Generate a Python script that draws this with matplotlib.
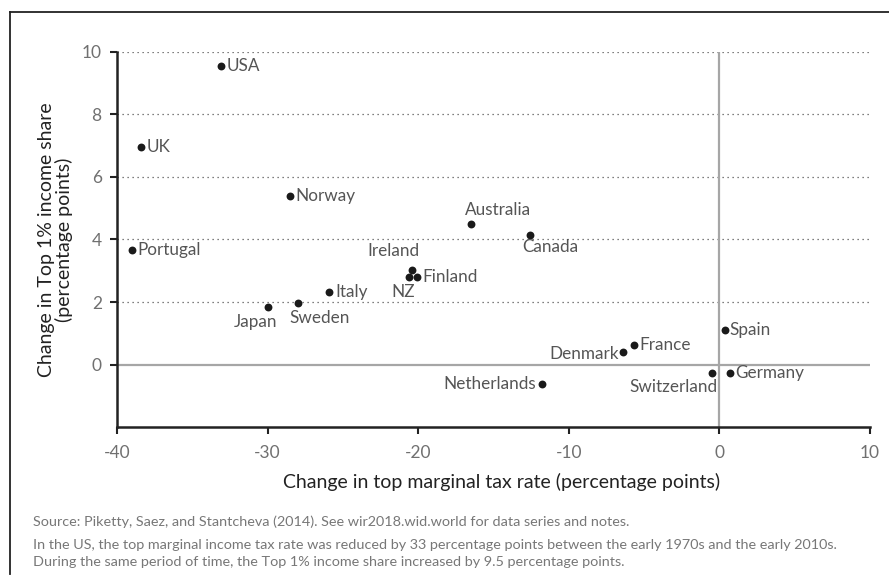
import matplotlib
matplotlib.use("Agg")
import matplotlib.pyplot as plt
from matplotlib.lines import Line2D

plt.rcParams['font.family'] = ['Lato', 'DejaVu Sans']
plt.rcParams['axes.unicode_minus'] = False

countries = ["USA", "UK", "Norway", "Portugal", "Ireland", "NZ", "Finland", "Italy",
             "Japan", "Sweden", "Australia", "Canada", "Spain", "France", "Denmark",
             "Netherlands", "Switzerland", "Germany"]
tax_change = [-33.1, -38.4, -28.5, -39.0, -20.4, -20.6, -20.1, -25.9,
              -30.0, -28.0, -16.5, -12.6, 0.4, -5.7, -6.4,
              -11.8, -0.5, 0.7]
share_change = [9.55, 6.97, 5.39, 3.67, 3.01, 2.80, 2.80, 2.31,
                1.84, 1.97, 4.48, 4.14, 1.12, 0.64, 0.39,
                -0.62, -0.27, -0.25]
# label offsets in points and alignment (style only)
label_style = {
    "USA": ((4, 0), "left", "center"),
    "UK": ((4, 0), "left", "center"),
    "Norway": ((4, 0), "left", "center"),
    "Portugal": ((4, 0), "left", "center"),
    "Ireland": ((5, 8), "right", "bottom"),
    "NZ": ((4, -5), "right", "top"),
    "Finland": ((4, 0), "left", "center"),
    "Italy": ((4, 0), "left", "center"),
    "Japan": ((7, -5), "right", "top"),
    "Sweden": ((-6, -5), "left", "top"),
    "Australia": ((-4, 5), "left", "bottom"),
    "Canada": ((-5, -3), "left", "top"),
    "Spain": ((3, 0), "left", "center"),
    "France": ((4, 0), "left", "center"),
    "Denmark": ((-3, -1), "right", "center"),
    "Netherlands": ((-4, 0), "right", "center"),
    "Switzerland": ((4, -4), "right", "top"),
    "Germany": ((4, 0), "left", "center"),
}

xticks = [-40, -30, -20, -10, 0, 10]
yticks = [0, 2, 4, 6, 8, 10]

fig = plt.figure(figsize=(8.89, 5.77), dpi=100)
ax = fig.add_axes([117/889, 1-427.3/577, (870-117)/889, (427.3-51.7)/577])
ax.set_xlim(-40, 10)
ax.set_ylim(-2, 10)

for yv in [2, 4, 6, 8, 10]:
    ax.axhline(yv, color="#555555", lw=0.9, ls=(0, (1, 3)), zorder=1)
ax.axhline(0, color="#a6a6a6", lw=1.6, zorder=2)
ax.axvline(0, color="#a6a6a6", lw=1.6, zorder=2)

ax.scatter(tax_change, share_change, s=32, color="#1a1a1a", zorder=4, linewidths=0)
for name, xv, yv in zip(countries, tax_change, share_change):
    off, ha, va = label_style[name]
    ax.annotate(name, (xv, yv), xytext=off, textcoords="offset points",
                ha=ha, va=va, fontsize=12.3, color="#555555", zorder=5)

for s in ["top", "right"]:
    ax.spines[s].set_visible(False)
for s in ["left", "bottom"]:
    ax.spines[s].set_color("#222222")
    ax.spines[s].set_linewidth(1.8)
ax.set_xticks(xticks)
ax.set_yticks(yticks)
ax.tick_params(axis="both", direction="out", length=5, width=1.5, color="#222222",
               labelsize=12.5, labelcolor="#707070", pad=8)
ax.tick_params(axis="y", pad=6)

ax.set_xlabel("Change in top marginal tax rate (percentage points)", fontsize=14,
              color="#222222")
ax.xaxis.set_label_coords((502-117)/(870-117), -(481.7-427.3)/(427.3-51.7))
ax.xaxis.label.set_va("center")
ax.set_ylabel("Change in Top 1% income share\n(percentage points)", fontsize=14,
              color="#222222", labelpad=6, linespacing=1.05)

note_kw = dict(fontsize=10.4, color="#777777", va="center", ha="left")
fig.text(33/889, 1-522/577, "Source: Piketty, Saez, and Stantcheva (2014). See wir2018.wid.world for data series and notes.", **note_kw)
fig.text(33/889, 1-545/577, "In the US, the top marginal income tax rate was reduced by 33 percentage points between the early 1970s and the early 2010s.", **note_kw)
fig.text(33/889, 1-562/577, "During the same period of time, the Top 1% income share increased by 9.5 percentage points.", **note_kw)

fig.add_artist(Line2D([10/889, 1.0], [1-12/577, 1-12/577], transform=fig.transFigure,
                      color="#222222", lw=1.3))
fig.add_artist(Line2D([10/889, 10/889], [1-12/577, 1-574/577], transform=fig.transFigure,
                      color="#222222", lw=1.3))

fig.savefig("out.png", dpi=100)
